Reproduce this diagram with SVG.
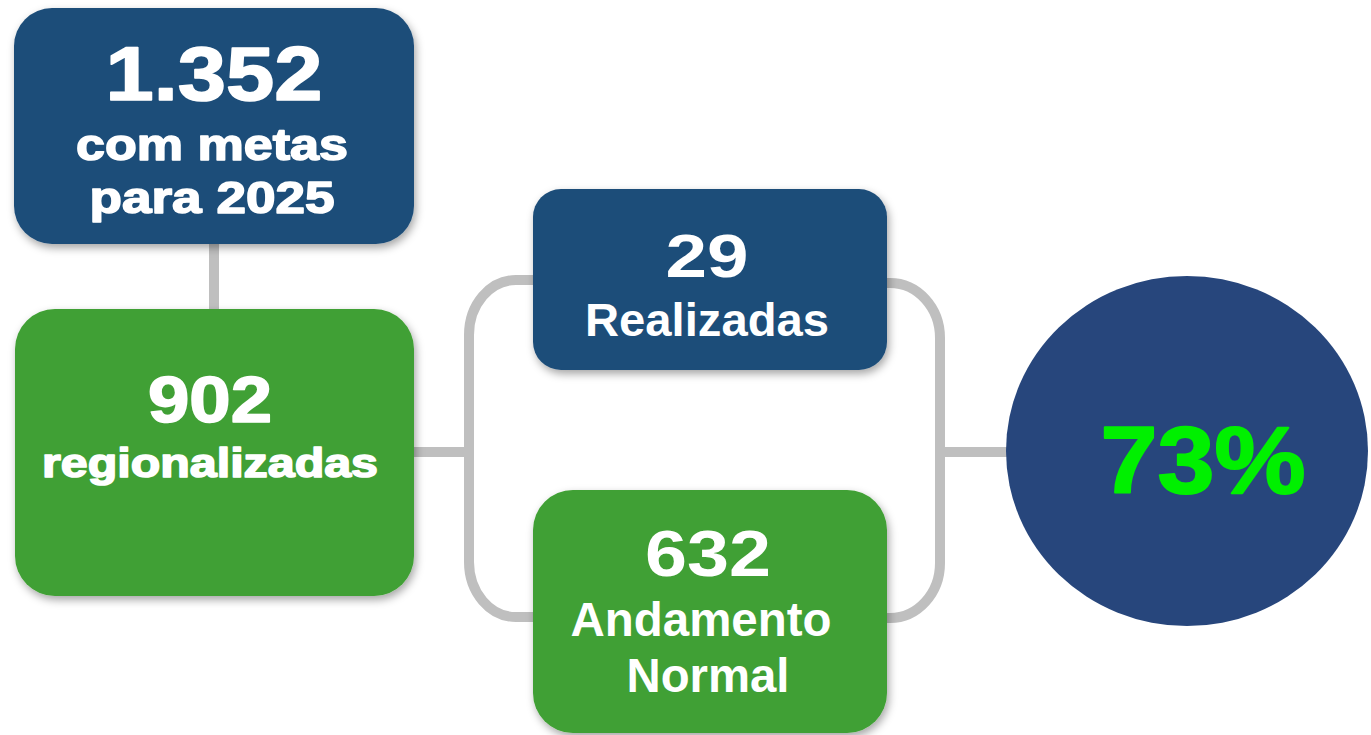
<svg xmlns="http://www.w3.org/2000/svg" width="1371" height="735" viewBox="0 0 1371 735">
<style>
.blue{fill:#1F4E79}
.green{fill:#40A034}
.t{fill:#fff;font-family:"Liberation Sans",Arial,sans-serif;font-weight:bold;text-anchor:middle}
.heavy{stroke:#fff;stroke-width:1.6;stroke-linejoin:round}
.conn{fill:none;stroke:#BFBFBF;stroke-width:10}
</style>
<defs>
<filter id="sh" x="-10%" y="-10%" width="130%" height="130%">
<feDropShadow dx="2" dy="4" stdDeviation="4" flood-color="#000" flood-opacity="0.35"/>
</filter>
</defs>
<rect width="1371" height="735" fill="#fff"/>
<g id="connectors">
<line class="conn" x1="214" y1="240" x2="214" y2="312" stroke-width="11"/>
<line class="conn" x1="412" y1="452" x2="470" y2="452" stroke-width="11"/>
<path class="conn" d="M535 280 H516 A47 55 0 0 0 469 335 V562 A47 55 0 0 0 516 617 H535"/>
<path class="conn" d="M885 283 H890 A50 55 0 0 1 940 338 V563 A50 55 0 0 1 890 618 H885"/>
<line class="conn" x1="940" y1="452" x2="1008" y2="452" stroke-width="11"/>
</g>
<g id="n1">
<rect class="blue" x="14" y="8" width="400" height="236" rx="38" filter="url(#sh)"/>
<text class="t heavy" x="214" y="100" font-size="76" textLength="217" lengthAdjust="spacingAndGlyphs">1.352</text>
<text class="t heavy" x="212" y="160" font-size="45" textLength="272" lengthAdjust="spacingAndGlyphs">com metas</text>
<text class="t heavy" x="212" y="213" font-size="45" textLength="245" lengthAdjust="spacingAndGlyphs">para 2025</text>
</g>
<g id="n2">
<rect class="green" x="15" y="309" width="399" height="287" rx="40" filter="url(#sh)"/>
<text class="t heavy" x="210" y="422" font-size="64" textLength="124" lengthAdjust="spacingAndGlyphs">902</text>
<text class="t heavy" x="210" y="477" font-size="41" textLength="336" lengthAdjust="spacingAndGlyphs">regionalizadas</text>
</g>
<g id="n3">
<rect class="blue" x="533" y="189" width="354" height="181" rx="28" filter="url(#sh)"/>
<text class="t" x="707" y="277" font-size="62" textLength="83" lengthAdjust="spacingAndGlyphs">29</text>
<text class="t" x="707" y="336" font-size="47" textLength="244" lengthAdjust="spacingAndGlyphs">Realizadas</text>
</g>
<g id="n4">
<rect class="green" x="533" y="490" width="354" height="243" rx="40" filter="url(#sh)"/>
<text class="t" x="708" y="576" font-size="64" textLength="126" lengthAdjust="spacingAndGlyphs">632</text>
<text class="t" x="701" y="636" font-size="48" textLength="261" lengthAdjust="spacingAndGlyphs">Andamento</text>
<text class="t" x="708" y="692" font-size="48" textLength="163" lengthAdjust="spacingAndGlyphs">Normal</text>
</g>
<g id="n5">
<ellipse cx="1187" cy="451" rx="181" ry="175" fill="#27467C"/>
<text x="1203" y="493" font-family="'Liberation Sans',Arial,sans-serif" font-weight="bold" font-size="95" fill="#00F000" stroke="#00F000" stroke-width="2" stroke-linejoin="round" text-anchor="middle" textLength="205" lengthAdjust="spacingAndGlyphs">73%</text>
</g>
</svg>
